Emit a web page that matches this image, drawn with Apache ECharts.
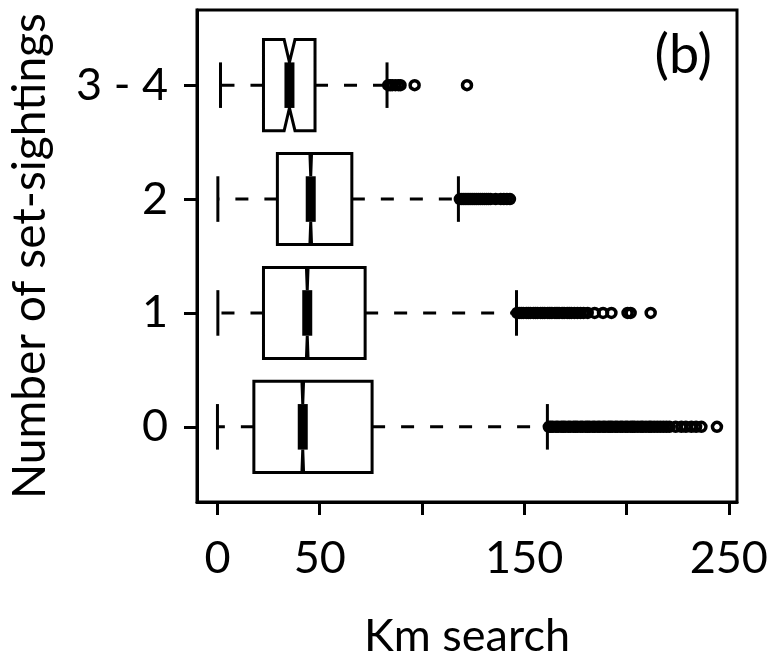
<!DOCTYPE html>
<html>
<head>
<meta charset="utf-8">
<title>Km search by number of set-sightings</title>
<script src="https://cdn.jsdelivr.net/npm/echarts@6/dist/echarts.min.js"></script>
<style>
html, body { margin: 0; padding: 0; background: #fff; }
#main { width: 767px; height: 669px; }
</style>
</head>
<body>
<div id="main"></div>
<script>
// groups from bottom to top
var categories = ["0", "1", "2", "3 - 4"];
var whiskerLow = [0, 0.2, 0.2, 1.5];
var q1 = [17.8, 22.5, 29.3, 22.5];
var notchLo = [41.3, 43.5, 45.2, 32.6];
var median = [41.7, 43.9, 45.6, 35.2];
var notchHi = [42.1, 44.3, 46.0, 37.9];
var q3 = [75.6, 72.2, 65.7, 47.7];
var whiskerHigh = [161.3, 146.2, 117.8, 82.9];

// outliers (km)
var outliers0 = [162, 163, 164, 165.5, 166.5, 168, 169, 170, 171.5, 172.5, 174, 175, 176, 177.5, 178.5,
  180, 181, 182, 183.5, 184.5, 186, 187, 188.5, 189.5, 191, 192, 193, 194.5, 195.5, 197, 198, 199.5,
  200.5, 202, 203, 204, 205.5, 207, 208, 209.5, 211, 212, 213.5, 215, 216.5, 218, 219.5, 221,
  224, 226.8, 229, 231.7, 234, 236.6, 244.2];
var outliers1 = [146.5, 147.5, 148.5, 149.5, 151, 152, 153, 154.5, 155.5, 156.5, 158, 159, 160, 161.5,
  162.5, 163.5, 165, 166, 167, 168.5, 169.5, 171, 172, 173, 174.5, 176, 177.5, 179, 181,
  184.4, 188.5, 192.6, 200.5, 202, 211.8];
var outliers2 = [118.5, 119.5, 120.5, 121.5, 122.5, 123.5, 124.5, 125.5, 126.5, 127.5, 128.5, 129.5,
  130.5, 131.5, 132.5, 133.5, 136, 138.5, 140, 141.5, 143];
var outliers34 = [83.5, 84.5, 85.5, 87, 88.5, 89.5, 96.4, 122];

var xTicks = [0, 50, 100, 150, 200, 250];
var xLabels = [0, 50, 150, 250];
var yTicks = [1, 2, 3, 4];

var FONT = "Lato";

var boxData = categories.map(function (c, i) {
  return [i + 1, whiskerLow[i], q1[i], notchLo[i], median[i], notchHi[i], q3[i], whiskerHigh[i]];
});

var outlierData = [];
[outliers0, outliers1, outliers2, outliers34].forEach(function (list, i) {
  list.forEach(function (v) {
    outlierData.push([v, i + 1]);
  });
});

function renderBox(params, api) {
  var pos = api.value(0);
  var unit = api.size([0, 1])[1];
  var w = unit * 0.4;
  var st = unit * 0.2;
  function pt(v, off) {
    var p = api.coord([v, pos]);
    return [p[0], p[1] + off];
  }
  var lo = api.value(1), a = api.value(2), c1 = api.value(3), md = api.value(4),
      c2 = api.value(5), b = api.value(6), hi = api.value(7);
  var solid = { stroke: "#000", lineWidth: 3, fill: null };
  var dashed = { stroke: "#000", lineWidth: 3, lineDash: [13, 16], fill: null };

  function seg(p1, p2, style) {
    return { type: "line", shape: { x1: p1[0], y1: p1[1], x2: p2[0], y2: p2[1] }, style: style };
  }

  return {
    type: "group",
    children: [
      seg(pt(a, 0), pt(lo, 0), dashed),
      seg(pt(b, 0), pt(hi, 0), dashed),
      seg(pt(lo, -st), pt(lo, st), solid),
      seg(pt(hi, -st), pt(hi, st), solid),
      {
        type: "polygon",
        shape: {
          points: [
            pt(a, -w), pt(a, w), pt(c1, w), pt(md, w * 0.5), pt(c2, w), pt(b, w),
            pt(b, -w), pt(c2, -w), pt(md, -w * 0.5), pt(c1, -w)
          ]
        },
        style: { fill: "#fff", stroke: "#000", lineWidth: 3, lineJoin: "miter" }
      },
      seg(pt(md, -w * 0.5), pt(md, w * 0.5), { stroke: "#000", lineWidth: 10, lineCap: "butt" })
    ]
  };
}

var myChart = echarts.init(document.getElementById("main"));
var option = {
  animation: false,
  backgroundColor: "#fff",
  title: {
    text: "(b)",
    right: 50,
    top: 24,
    textStyle: { fontFamily: FONT, fontSize: 54, fontWeight: "normal", color: "#000" }
  },
  grid: {
    left: 197,
    right: 30,
    top: 10,
    bottom: 167,
    show: true,
    borderColor: "#000",
    borderWidth: 3,
    containLabel: false,
    outerBoundsMode: "none"
  },
  xAxis: {
    type: "value",
    min: -10,
    max: 254,
    name: "Km search",
    nameLocation: "middle",
    nameGap: 112,
    nameTextStyle: { fontFamily: FONT, fontSize: 45, color: "#000" },
    axisLine: { show: true, onZero: false, lineStyle: { color: "#000", width: 3 } },
    axisTick: { show: true, length: 13, customValues: xTicks, lineStyle: { color: "#000", width: 3 } },
    axisLabel: { customValues: xLabels, margin: 34, fontFamily: FONT, fontSize: 45, color: "#000" },
    splitLine: { show: false }
  },
  yAxis: {
    type: "value",
    min: 0.34,
    max: 4.66,
    name: "Number of set-sightings",
    nameLocation: "middle",
    nameRotate: 90,
    nameGap: 144,
    nameTextStyle: { fontFamily: FONT, fontSize: 46, color: "#000" },
    axisLine: { show: true, onZero: false, lineStyle: { color: "#000", width: 3 } },
    axisTick: { show: true, length: 13, customValues: yTicks, lineStyle: { color: "#000", width: 3 } },
    axisLabel: {
      customValues: yTicks,
      margin: 29,
      fontFamily: FONT,
      fontSize: 45,
      color: "#000",
      formatter: function (v) {
        return categories[Math.round(v) - 1];
      }
    },
    splitLine: { show: false }
  },
  series: [
    {
      type: "custom",
      renderItem: renderBox,
      data: boxData,
      encode: { x: [1, 2, 3, 4, 5, 6, 7], y: 0 },
      z: 2,
      silent: true
    },
    {
      type: "scatter",
      data: outlierData,
      symbol: "circle",
      symbolSize: 9,
      itemStyle: { color: "rgba(0,0,0,0)", borderColor: "#000", borderWidth: 3.5, opacity: 1 },
      z: 3,
      silent: true
    }
  ]
};

myChart.setOption(option);
</script>
</body>
</html>
